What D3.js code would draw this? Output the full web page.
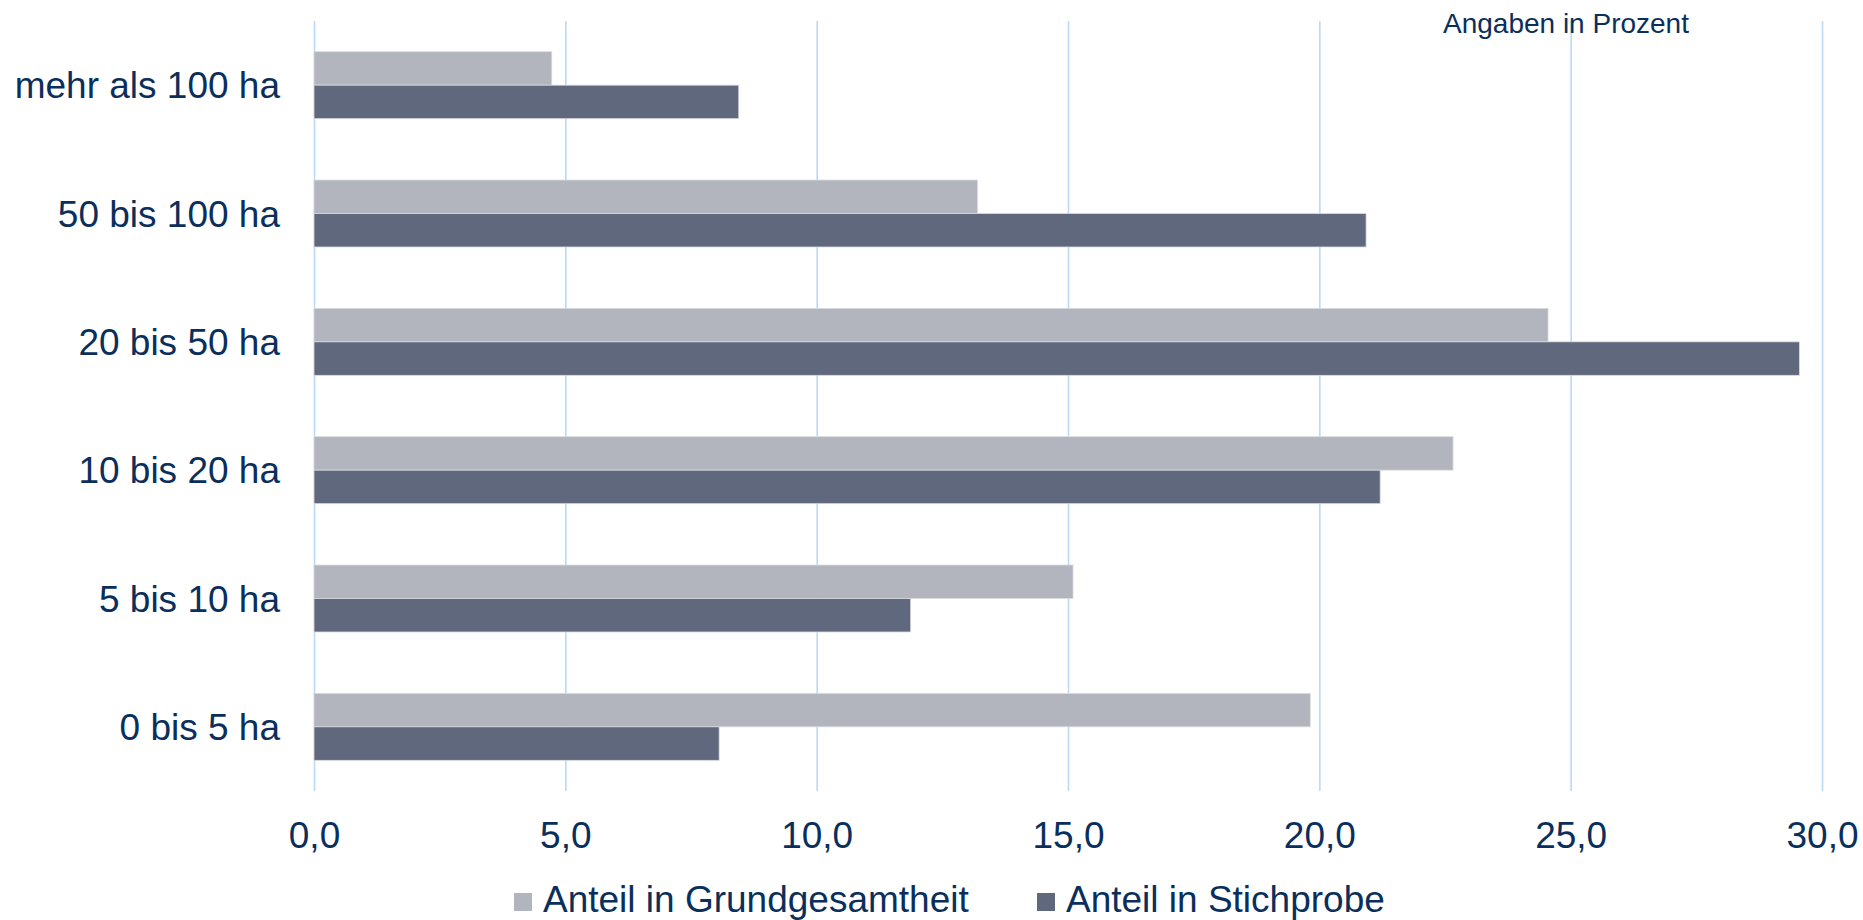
<!DOCTYPE html>
<html>
<head>
<meta charset="utf-8">
<script src="https://cdn.jsdelivr.net/npm/d3@7"></script>
<style>
  body { margin: 0; background: #fff; }
  text { font-family: Arial, "Liberation Sans", sans-serif; fill: #0B2F5C; }
</style>
</head>
<body>
<div id="chart-area"></div>
<script>
// data
var categories = ["mehr als 100 ha", "50 bis 100 ha", "20 bis 50 ha", "10 bis 20 ha", "5 bis 10 ha", "0 bis 5 ha"];
var seriesNames = ["Anteil in Grundgesamtheit", "Anteil in Stichprobe"];
var grundgesamtheit = [4.73, 13.2, 24.55, 22.66, 15.1, 19.82];
var stichprobe = [8.45, 20.93, 29.55, 21.21, 11.87, 8.06];
var tickValues = [0, 5, 10, 15, 20, 25, 30];
var colors = ["#B2B5BD", "#5F687C"];

var width = 1863;
var height = 920;

var svg = d3.select("#chart-area").append("svg")
	.attr("width", width)
	.attr("height", height);

var rows = categories.map((c, i) => ({ cat: c, values: [grundgesamtheit[i], stichprobe[i]] }));

// Scales
var x = d3.scaleLinear()
	.domain([0, 30])
	.range([314, 1822]);

var y = d3.scaleBand()
	.domain(categories)
	.range([21, 791])
	.paddingInner(0.478)
	.paddingOuter(0.239);

var ySub = d3.scaleBand()
	.domain([0, 1])
	.range([0, y.bandwidth()]);

// gridlines
svg.append("g")
	.selectAll("line")
	.data(tickValues)
	.enter().append("line")
	.attr("x1", (d) => x(d) + 0.5)
	.attr("x2", (d) => x(d) + 0.5)
	.attr("y1", 21)
	.attr("y2", 791)
	.attr("stroke", "#BBDAF8")
	.attr("stroke-width", 1.6);

// bars
var groups = svg.append("g")
	.selectAll("g")
	.data(rows)
	.enter().append("g")
	.attr("transform", (d) => "translate(0," + y(d.cat) + ")");

groups.selectAll("rect")
	.data((d) => d.values)
	.enter().append("rect")
	.attr("x", x(0))
	.attr("y", (d, i) => ySub(i))
	.attr("width", (d) => x(d) - x(0))
	.attr("height", ySub.bandwidth())
	.attr("fill", (d, i) => colors[i])
	.attr("stroke", "#DADCE0")
	.attr("stroke-width", 0.8);

// x axis labels
var xAxisCall = d3.axisBottom(x)
	.tickValues(tickValues)
	.tickSize(0)
	.tickPadding(0)
	.tickFormat((d) => d3.format(".1f")(d).replace(".", ","));

var xAxisGroup = svg.append("g")
	.attr("transform", "translate(0, 821)")
	.call(xAxisCall);
xAxisGroup.select(".domain").remove();
xAxisGroup.selectAll("text")
	.attr("dy", null)
	.attr("y", 27)
	.style("font-size", "37px")
	.style("font-family", "Arial, 'Liberation Sans', sans-serif")
	.attr("fill", "#0B2F5C");

// y axis labels
svg.append("g")
	.selectAll("text")
	.data(categories)
	.enter().append("text")
	.attr("x", 280)
	.attr("y", (d) => y(d) + y.bandwidth() / 2 + 13)
	.attr("text-anchor", "end")
	.style("font-size", "37px")
	.text((d) => d);

// unit label
svg.append("text")
	.attr("x", 1443)
	.attr("y", 33)
	.style("font-size", "28px")
	.text("Angaben in Prozent");

// legend
var legendX = [514, 1037];
var legend = svg.append("g");

seriesNames.forEach((name, i) => {
	var legendRow = legend.append("g")
		.attr("transform", "translate(" + legendX[i] + ", 0)");

	legendRow.append("rect")
		.attr("y", 893)
		.attr("width", 18)
		.attr("height", 18)
		.attr("fill", colors[i]);

	legendRow.append("text")
		.attr("x", 29)
		.attr("y", 912)
		.style("font-size", "37px")
		.text(name);
});
</script>
</body>
</html>
